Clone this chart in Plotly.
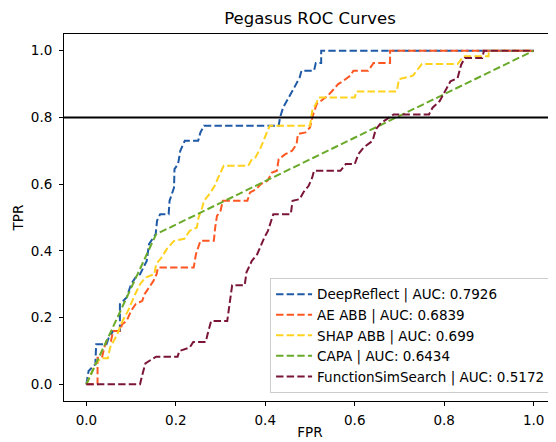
import plotly.graph_objects as go

# ---- data ----
deep_fpr = [0, 0.005, 0.02, 0.022, 0.045, 0.05, 0.06, 0.075, 0.075, 0.09, 0.10, 0.11, 0.12, 0.135, 0.14,
            0.155, 0.158, 0.165, 0.184, 0.186, 0.196, 0.197, 0.205, 0.21, 0.22, 0.25, 0.255, 0.263, 0.43,
            0.433, 0.44, 0.453, 0.465, 0.477, 0.481, 0.509, 0.513, 0.525, 0.525, 1.0]
deep_tpr = [0, 0.04, 0.06, 0.12, 0.12, 0.14, 0.16, 0.16, 0.24, 0.26, 0.30, 0.32, 0.33, 0.37, 0.42,
            0.45, 0.49, 0.51, 0.51, 0.55, 0.59, 0.645, 0.66, 0.70, 0.73, 0.73, 0.755, 0.775, 0.775,
            0.80, 0.83, 0.86, 0.89, 0.92, 0.94, 0.94, 0.963, 0.963, 1.0, 1.0]

ae_fpr = [0, 0.025, 0.025, 0.035, 0.04, 0.045, 0.055, 0.06, 0.075, 0.08, 0.09, 0.10, 0.11, 0.125, 0.13,
          0.14, 0.15, 0.157, 0.16, 0.24, 0.245, 0.255, 0.285, 0.288, 0.292, 0.30, 0.305, 0.36, 0.366,
          0.38, 0.39, 0.405, 0.415, 0.426, 0.43, 0.445, 0.46, 0.47, 0.473, 0.49, 0.50, 0.505, 0.515,
          0.53, 0.54, 0.55, 0.563, 0.575, 0.59, 0.597, 0.63, 0.638, 0.642, 0.679, 0.679, 1.0]
ae_tpr = [0, 0, 0.08, 0.08, 0.11, 0.13, 0.13, 0.16, 0.16, 0.18, 0.19, 0.22, 0.24, 0.25, 0.27,
          0.29, 0.31, 0.33, 0.35, 0.35, 0.39, 0.43, 0.43, 0.47, 0.505, 0.52, 0.55, 0.55, 0.575,
          0.585, 0.60, 0.61, 0.635, 0.64, 0.675, 0.69, 0.70, 0.72, 0.75, 0.755, 0.77, 0.80, 0.84,
          0.855, 0.865, 0.88, 0.90, 0.91, 0.925, 0.94, 0.94, 0.955, 0.963, 0.963, 1.0, 1.0]

shap_fpr = [0, 0.01, 0.021, 0.033, 0.048, 0.053, 0.069, 0.081, 0.093, 0.109, 0.12, 0.132, 0.152, 0.156,
            0.168, 0.18, 0.196, 0.219, 0.231, 0.247, 0.251, 0.259, 0.263, 0.275, 0.287, 0.295, 0.307,
            0.362, 0.37, 0.378, 0.39, 0.402, 0.41, 0.50, 0.505, 0.513, 0.52, 0.60, 0.604, 0.694,
            0.699, 0.73, 0.75, 0.83, 0.843, 0.899, 0.90, 1.0]
shap_tpr = [0, 0.03, 0.063, 0.078, 0.078, 0.11, 0.15, 0.19, 0.22, 0.27, 0.30, 0.32, 0.33, 0.36,
            0.38, 0.406, 0.43, 0.436, 0.46, 0.47, 0.50, 0.53, 0.55, 0.57, 0.595, 0.62, 0.655,
            0.655, 0.675, 0.68, 0.71, 0.75, 0.775, 0.775, 0.82, 0.84, 0.86, 0.86, 0.878, 0.878,
            0.915, 0.925, 0.96, 0.96, 0.983, 0.983, 1.0, 1.0]

capa_fpr = [0, 0.156, 1.0]
capa_tpr = [0, 0.45, 1.0]

fss_fpr = [0, 0.12, 0.124, 0.132, 0.156, 0.204, 0.208, 0.231, 0.239, 0.267, 0.271, 0.279, 0.315,
           0.319, 0.326, 0.354, 0.358, 0.37, 0.382, 0.398, 0.406, 0.418, 0.457, 0.461, 0.477, 0.485,
           0.497, 0.505, 0.509, 0.568, 0.58, 0.60, 0.608, 0.62, 0.64, 0.647, 0.659, 0.671, 0.687,
           0.766, 0.774, 0.79, 0.802, 0.814, 0.83, 0.838, 0.846, 0.885, 0.889, 1.0]
fss_tpr = [0, 0, 0.023, 0.063, 0.083, 0.083, 0.10, 0.11, 0.127, 0.127, 0.15, 0.19, 0.19,
           0.23, 0.297, 0.297, 0.336, 0.37, 0.39, 0.44, 0.46, 0.51, 0.51, 0.55, 0.555, 0.575,
           0.595, 0.62, 0.64, 0.64, 0.66, 0.66, 0.69, 0.71, 0.73, 0.764, 0.784, 0.794, 0.809,
           0.809, 0.829, 0.849, 0.879, 0.908, 0.918, 0.958, 0.978, 0.978, 1.0, 1.0]

names = ["DeepReflect | AUC: 0.7926", "AE ABB | AUC: 0.6839", "SHAP ABB | AUC: 0.699",
         "CAPA | AUC: 0.6434", "FunctionSimSearch | AUC: 0.5172"]
colors = ["#1f5aa6", "#ff5722", "#ffd21f", "#6aaa2a", "#7b1538"]
series = [(deep_fpr, deep_tpr), (ae_fpr, ae_tpr), (shap_fpr, shap_tpr),
          (capa_fpr, capa_tpr), (fss_fpr, fss_tpr)]
threshold_tpr = 0.8

title_text = "Pegasus ROC Curves"
x_title = "FPR"
y_title = "TPR"
tick_vals = [0.0, 0.2, 0.4, 0.6, 0.8, 1.0]
tick_text = ["0.0", "0.2", "0.4", "0.6", "0.8", "1.0"]

FONT = "DejaVu Sans"
# the page body has an 8px margin; the figure is sized so that it fills the 556x442 window
W, H = 548, 434

fig = go.Figure()
for (fx, ty), nm, col in zip(series, names, colors):
    fig.add_trace(go.Scatter(x=fx, y=ty, mode="lines", name=nm,
                             line=dict(color=col, width=2, dash="7.4px,3.2px")))

fig.add_shape(type="line", xref="paper", yref="y", x0=0, x1=1, y0=threshold_tpr, y1=threshold_tpr,
              line=dict(color="black", width=2), layer="above")

axis_common = dict(range=[-0.05, 1.05], tickvals=tick_vals, ticktext=tick_text, ticks="outside",
                   ticklen=4, tickwidth=1, tickcolor="black", showline=True, linecolor="black",
                   linewidth=1, mirror=True, showgrid=False, zeroline=False,
                   tickfont=dict(family=FONT, size=13.5, color="black"))

fig.update_layout(
    width=W, height=H,
    margin=dict(l=56, r=0, t=26, b=41, autoexpand=False),
    paper_bgcolor="white", plot_bgcolor="white",
    font=dict(family=FONT, color="black"),
    title=dict(text=title_text, x=0.5, xref="paper", y=1 - 10.5 / H, yref="container",
               yanchor="middle", xanchor="center", font=dict(family=FONT, size=16.5, color="black")),
    xaxis=dict(axis_common, ticklabelstandoff=3,
               title=dict(text=x_title, standoff=0, font=dict(family=FONT, size=13.5))),
    yaxis=dict(axis_common, ticklabelstandoff=4,
               title=dict(text=y_title, standoff=4, font=dict(family=FONT, size=13.5))),
    showlegend=True,
    legend=dict(x=0.99, y=0.022, xanchor="right", yanchor="bottom",
                bgcolor="rgba(255,255,255,0.85)", bordercolor="#cccccc", borderwidth=1,
                font=dict(family=FONT, size=13.5, color="black"), itemwidth=36,
                tracegroupgap=0),
)

fig.write_html("out.html")
